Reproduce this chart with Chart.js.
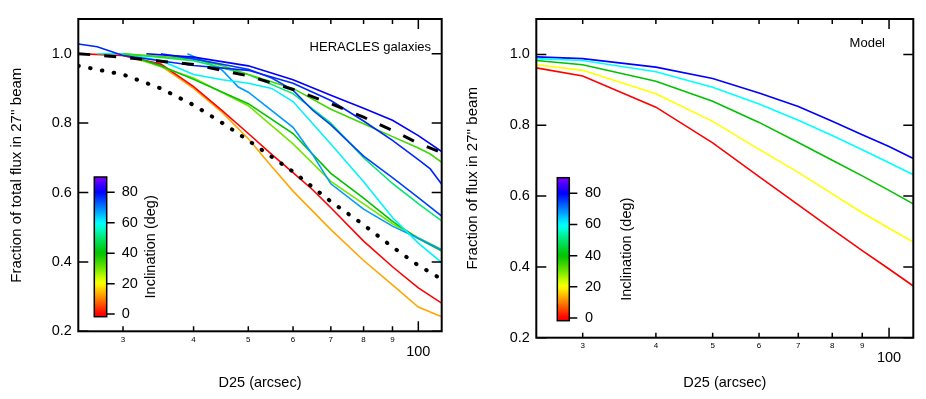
<!DOCTYPE html>
<html><head><meta charset="utf-8">
<script src="https://cdn.jsdelivr.net/npm/chart.js@4"></script>
<style>
html,body{margin:0;padding:0;background:#fff;}
#wrap{position:relative;width:926px;height:399px;overflow:hidden;background:#fff;}
canvas{position:absolute;top:0;}
</style></head><body>
<div id="wrap"><canvas id="c1" width="463" height="399" style="left:0"></canvas><canvas id="c2" width="463" height="399" style="left:463px"></canvas></div>
<script>
// ---------------- data ----------------
const galaxyD25 = [25, 27, 30, 33, 35, 39, 40, 42, 45, 48, 50, 55, 60, 65, 70, 80, 90, 100, 105, 110];
const galA = [null, null, null, 1.0, null, null, 0.99, null, null, null, 0.965, null, 0.925, null, 0.88, 0.843, 0.808, 0.764, null, 0.718];
const galB = [1.028, 1.02, 0.995, null, null, null, 0.966, null, null, null, 0.952, null, 0.915, null, 0.865, 0.806, 0.75, 0.695, 0.668, 0.624];
const galC = [null, null, null, null, 1.0, null, 0.985, null, null, null, 0.955, 0.93, 0.895, 0.837, 0.795, 0.705, 0.643, 0.585, null, 0.532];
const galD = [null, null, 1.0, null, null, null, 0.985, null, 0.965, null, 0.94, null, 0.9, null, 0.84, 0.798, 0.761, 0.728, 0.711, 0.687];
const galE = [null, null, 1.0, null, null, null, 0.98, null, null, null, 0.94, null, 0.885, null, 0.8, 0.7, 0.626, 0.568, null, 0.518];
const galF = [null, 1.0, 1.0, null, 0.98, null, 0.94, null, 0.925, null, 0.915, 0.9, 0.862, null, 0.74, 0.631, 0.528, 0.454, null, 0.398];
const galG = [null, null, null, null, null, 1.0, null, 0.977, 0.952, 0.904, 0.889, null, 0.788, 0.709, 0.625, 0.552, 0.503, 0.468, null, 0.434];
const galH = [null, null, 1.0, null, 0.965, null, 0.926, null, null, null, 0.856, null, 0.77, null, 0.655, 0.584, 0.517, 0.467, null, 0.431];
const galI = [null, null, 1.0, null, null, null, 0.93, null, null, null, 0.85, null, 0.74, null, 0.632, 0.567, 0.51, 0.47, null, 0.436];
const galJ = [1.0, null, 0.995, null, 0.97, null, 0.905, null, 0.835, null, 0.77, 0.71, 0.657, 0.608, 0.556, 0.46, 0.386, 0.325, null, 0.281];
const galK = [1.0, null, 0.995, null, 0.965, null, 0.9, null, 0.83, null, 0.755, 0.675, 0.604, null, 0.493, 0.404, 0.334, 0.27, null, 0.242];
const galaxySeries = [galA, galB, galC, galD, galE, galF, galG, galH, galI, galJ, galK];
const galaxyIncl = [80, 77, 75, 34, 50, 61, 68, 40, 30, 0, 13];
const refDashed = [1.0, null, 0.99, null, 0.978, null, 0.969, null, null, null, 0.936, null, 0.897, null, 0.856, 0.817, 0.779, 0.742, null, 0.715];
const refDotted = [0.965, null, 0.94, null, 0.9, null, 0.852, null, 0.8, null, 0.75, null, 0.66, null, 0.574, 0.507, 0.443, 0.39, null, 0.35];

const modelD25 = [25, 30, 40, 50, 60, 70, 80, 90, 100, 110];
const model0  = [0.962, 0.939, 0.851, 0.750, 0.655, 0.575, 0.506, 0.446, 0.394, 0.346];
const model20 = [0.971, 0.955, 0.889, 0.811, 0.732, 0.667, 0.606, 0.553, 0.509, 0.470];
const model40 = [0.983, 0.971, 0.924, 0.868, 0.808, 0.751, 0.701, 0.657, 0.616, 0.578];
const model60 = [0.988, 0.983, 0.951, 0.907, 0.860, 0.814, 0.771, 0.731, 0.694, 0.660];
const model80 = [0.993, 0.988, 0.964, 0.932, 0.891, 0.853, 0.811, 0.773, 0.740, 0.706];
const modelSeries = [model0, model20, model40, model60, model80];
const modelIncl = [0, 20, 40, 60, 80];

const xTickValues = [30, 40, 50, 60, 70, 80, 90, 100];
const xTickLabels = ['3', '4', '5', '6', '7', '8', '9', '100'];
const yTickValues = [0.2, 0.4, 0.6, 0.8, 1.0];
const inclTicks = [0, 20, 40, 60, 80];
const inclRange = [-1.7, 90];

// ---------------- helpers ----------------
const FONT = '"Liberation Sans", Arial, sans-serif';
Chart.defaults.font.family = FONT;
Chart.defaults.color = '#000';

function inclColor(i) {
  const h = Math.min(270, Math.max(0, 3 * i));
  const d = Math.abs(h - 120);
  const l = d < 50 ? 50 - 12 * (1 - d / 50) : 50;
  return `hsl(${h.toFixed(1)},100%,${l.toFixed(1)}%)`;
}
function pts(xs, ys) {
  const out = [];
  xs.forEach((x, i) => { if (ys[i] !== null && ys[i] !== undefined) out.push({x, y: ys[i]}); });
  return out;
}

const decor = {
  id: 'decor',
  afterDatasetsDraw(chart, args, o) {
    const {ctx, chartArea: a, scales: {x, y}} = chart;
    ctx.save();
    ctx.strokeStyle = '#000';
    ctx.lineWidth = 1.5;
    ctx.beginPath();
    xTickValues.forEach((v, i) => {
      const px = x.getPixelForValue(v);
      const len = xTickLabels[i] === '100' ? 10 : 5;
      ctx.moveTo(px, a.bottom); ctx.lineTo(px, a.bottom - len);
      ctx.moveTo(px, a.top); ctx.lineTo(px, a.top + len);
    });
    yTickValues.forEach(v => {
      const py = y.getPixelForValue(v);
      ctx.moveTo(a.left, py); ctx.lineTo(a.left + 10, py);
      ctx.moveTo(a.right, py); ctx.lineTo(a.right - 10, py);
    });
    ctx.stroke();
    ctx.lineWidth = 2;
    ctx.strokeRect(a.left, a.top, a.right - a.left, a.bottom - a.top);

    // panel label
    ctx.fillStyle = '#000';
    ctx.font = '13px ' + FONT;
    ctx.textAlign = 'right';
    ctx.textBaseline = 'middle';
    ctx.fillText(o.label, a.right + o.labelDx, a.top + o.labelDy);

    // colour bar
    const bx = a.left + o.cbDx, bt = a.top + o.cbTop, bb = a.bottom - o.cbBottom, bw = o.cbW;
    const [vmin, vmax] = inclRange;
    const vPix = v => bb - (v - vmin) / (vmax - vmin) * (bb - bt);
    const g = ctx.createLinearGradient(0, bb, 0, bt);
    for (let k = 0; k <= 45; k++) {
      const t = k / 45;
      g.addColorStop(t, inclColor(vmin + t * (vmax - vmin)));
    }
    ctx.fillStyle = g;
    ctx.fillRect(bx, bt, bw, bb - bt);
    ctx.lineWidth = 1.5;
    ctx.strokeRect(bx, bt, bw, bb - bt);
    ctx.beginPath();
    inclTicks.forEach(v => { const py = vPix(v); ctx.moveTo(bx + bw, py); ctx.lineTo(bx + bw + 8, py); });
    ctx.stroke();
    ctx.fillStyle = '#000';
    ctx.font = '14.5px ' + FONT;
    ctx.textAlign = 'left';
    ctx.textBaseline = 'middle';
    inclTicks.forEach(v => ctx.fillText(String(v), bx + bw + o.cbLabelDx, vPix(v)));
    ctx.save();
    ctx.translate(bx + bw + o.cbTitleDx, (bt + bb) / 2);
    ctx.rotate(-Math.PI / 2);
    ctx.textAlign = 'center';
    ctx.fillText('Inclination (deg)', 0, 0);
    ctx.restore();
    ctx.restore();
  }
};

function makeChart(id, datasets, cfg) {
  return new Chart(document.getElementById(id), {
    type: 'line',
    data: { datasets },
    options: {
      responsive: false, animation: false, devicePixelRatio: 1,
      layout: { padding: { left: 0, right: cfg.padRight, top: 19, bottom: 0 } },
      plugins: { legend: { display: false }, tooltip: { enabled: false }, decor: cfg.decor },
      elements: { point: { radius: 0 }, line: { tension: 0 } },
      scales: {
        x: {
          type: 'logarithmic', min: 25, max: 110, bounds: 'data',
          afterBuildTicks: s => { s.ticks = xTickValues.map(v => ({ value: v })); },
          afterFit: s => { s.height = cfg.xAxisHeight; },
          grid: { display: false, drawTicks: false }, border: { display: false },
          ticks: {
            autoSkip: false, maxRotation: 0, minRotation: 0, padding: 3.3, color: '#000',
            font: c => xTickLabels[c.index] === '100' ? { size: 14.5, lineHeight: 0.786 } : { size: 8, lineHeight: 1.2 },
            callback: (v, i) => xTickLabels[i] === '100' ? ['', '100'] : xTickLabels[i]
          },
          title: { display: true, text: 'D25 (arcsec)', color: '#000', font: { size: 14.5, lineHeight: 1.2 }, padding: { top: 0, bottom: cfg.xTitlePad } }
        },
        y: {
          min: 0.2, max: 1.1,
          afterBuildTicks: s => { s.ticks = yTickValues.map(v => ({ value: v })); },
          afterFit: s => { s.width = cfg.yAxisWidth; },
          grid: { display: false, drawTicks: false }, border: { display: false },
          ticks: { padding: 6.5, color: '#000', font: { size: 14.5 }, callback: v => Number(v).toFixed(1) },
          title: { display: true, text: cfg.yTitle, color: '#000', font: { size: 15, lineHeight: 1.2 }, padding: { top: cfg.yTitlePad, bottom: 0 } }
        }
      }
    },
    plugins: [decor]
  });
}

// left panel datasets
const leftSets = [
  { data: pts(galaxyD25, refDashed), borderColor: '#000', borderWidth: 3, borderDash: [12, 14], spanGaps: true, fill: false },
  { data: pts(galaxyD25, refDotted), borderColor: '#000', borderWidth: 4, borderDash: [0.5, 11.5], borderCapStyle: 'round', spanGaps: true, fill: false }
];
galaxySeries.forEach((s, k) => leftSets.push({
  data: pts(galaxyD25, s), borderColor: inclColor(galaxyIncl[k]), borderWidth: 1.6, spanGaps: true, fill: false
}));

const rightSets = modelSeries.map((s, k) => ({
  data: pts(modelD25, s), borderColor: inclColor(modelIncl[k]), borderWidth: 1.6, fill: false
}));

makeChart('c1', leftSets, {
  padRight: 21.3, xAxisHeight: 67.7, yAxisWidth: 78.3, xTitlePad: 7.6, yTitlePad: 7.7,
  yTitle: "Fraction of total flux in 27'' beam",
  decor: { label: 'HERACLES galaxies', labelDx: -10.7, labelDy: 28.5, cbDx: 16, cbW: 12.4, cbTop: 158, cbBottom: 14.6, cbLabelDx: 15, cbTitleDx: 44 }
});
makeChart('c2', rightSets, {
  padRight: 12.7, xAxisHeight: 61.3, yAxisWidth: 73.3, xTitlePad: 7.0, yTitlePad: 1,
  yTitle: "Fraction of flux in 27'' beam",
  decor: { label: 'Model', labelDx: -28.3, labelDy: 24.3, cbDx: 21, cbW: 12, cbTop: 158.7, cbBottom: 17, cbLabelDx: 15.7, cbTitleDx: 57.4 }
});
</script>
</body></html>
